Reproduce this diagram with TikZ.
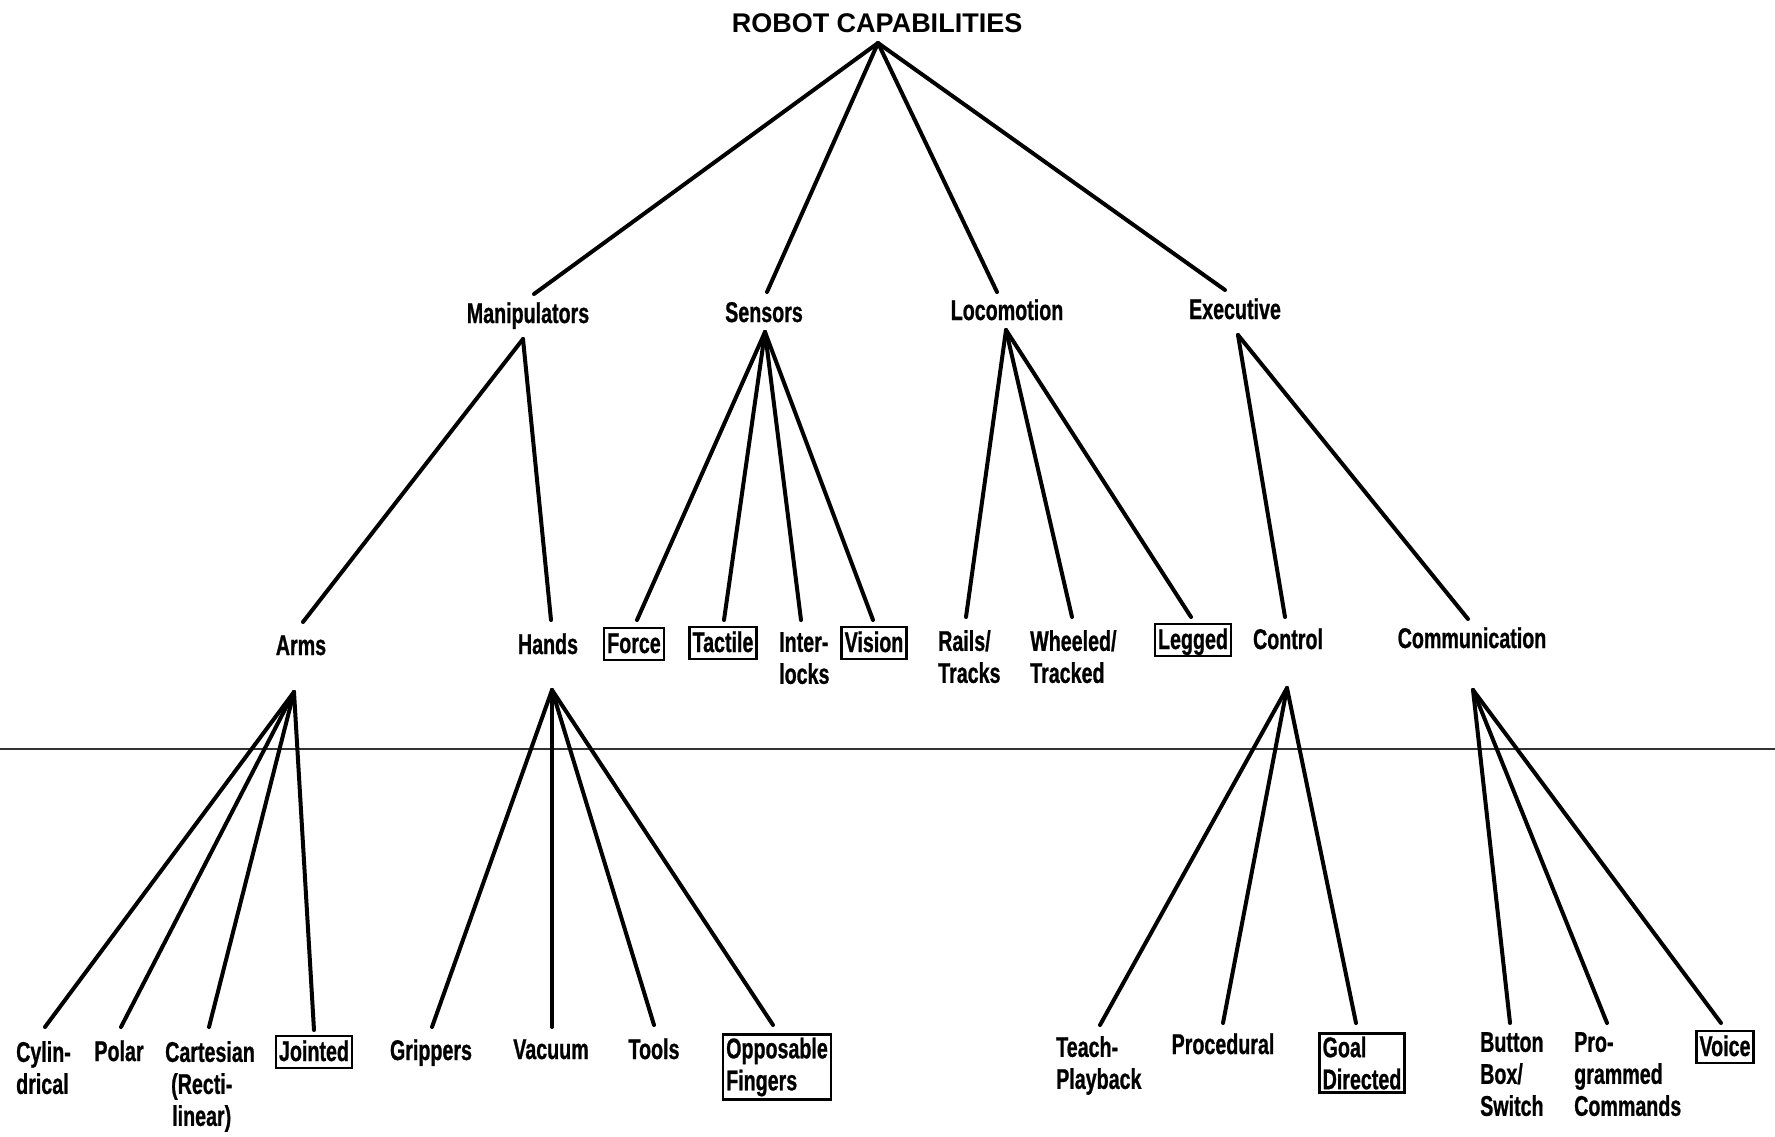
\documentclass[tikz,border=0pt]{standalone}
\usepackage{fontspec}
\newfontfamily\lab[FakeStretch=0.69,FakeBold=0.8]{Liberation Sans}
\newfontfamily\ttl{Liberation Sans}
\begin{document}
\begin{tikzpicture}[x=1pt,y=-1pt,
  lbl/.style={font=\lab\bfseries\fontsize{28.5}{32}\selectfont, inner sep=0pt, anchor=base},
  ml/.style={font=\lab\bfseries\fontsize{28.5}{32}\selectfont, inner sep=0pt, align=left, anchor=north west},
  boxed/.style={font=\lab\bfseries\fontsize{28.5}{32}\selectfont, draw, line width=2.5pt, inner xsep=3pt, inner ysep=3pt, text height=22pt, text depth=4pt, anchor=center},
  mlbox/.style={font=\lab\bfseries\fontsize{28.5}{32}\selectfont, draw, line width=2.5pt, inner sep=3pt, align=left, anchor=center},
  edge/.style={line width=4pt, line cap=round, line join=round}]
\useasboundingbox[fill=white] (0,0) rectangle (1775,1136);
% scan fold line
\draw[line width=1.2pt, black!80] (0,749) -- (1775,749);
% title
\node[font=\ttl\bfseries\fontsize{27}{32}\selectfont, inner sep=0pt, anchor=base] (title) at (877,32) {ROBOT CAPABILITIES};
% level 1
\node[lbl] (manip) at (528,323) {Manipulators};
\node[lbl] (sens) at (764,322) {Sensors};
\node[lbl] (loco) at (1007,320) {Locomotion};
\node[lbl] (exec) at (1235,319) {Executive};
% level 2
\node[lbl] (arms) at (301,655) {Arms};
\node[lbl] (hands) at (548,654) {Hands};
\node[boxed] (force) at (634,644) {Force};
\node[boxed] (tactile) at (723,643) {Tactile};
\node[ml] (inter) at (779,632) {Inter-\\locks};
\node[boxed] (vision) at (874,643) {Vision};
\node[ml] (rails) at (938,630) {Rails/\\Tracks};
\node[ml] (wheeled) at (1030,630) {Wheeled/\\Tracked};
\node[boxed] (legged) at (1193,640) {Legged};
\node[lbl] (control) at (1288,649) {Control};
\node[lbl] (comm) at (1472,648) {Communication};
% level 3
\node[ml] (cyl) at (16,1041) {Cylin-\\drical};
\node[lbl] (polar) at (119,1061) {Polar};
\node[ml] (cart) at (165,1041) {Cartesian\\\hspace*{6pt}(Recti-\\\hspace*{7pt}linear)};
\node[boxed] (jointed) at (314,1052) {Jointed};
\node[lbl] (grippers) at (431,1060) {Grippers};
\node[lbl] (vacuum) at (551,1059) {Vacuum};
\node[lbl] (tools) at (654,1059) {Tools};
\node[mlbox] (opp) at (777,1067) {Opposable\\Fingers};
\node[ml] (teach) at (1056,1036) {Teach-\\Playback};
\node[lbl] (proc) at (1223,1054) {Procedural};
\node[mlbox] (goal) at (1362,1063) {Goal\\Directed};
\node[ml] (button) at (1480,1032) {Button\\Box/\\Switch};
\node[ml] (prog) at (1574,1032) {Pro-\\grammed\\Commands};
\node[boxed] (voice) at (1725,1047) {Voice};
% connector points
\coordinate (titleB) at (878,43);
\coordinate (manipT) at (534,294);
\coordinate (sensT) at (767,292);
\coordinate (locoT) at (997,292);
\coordinate (execT) at (1225,290);
\coordinate (manipB) at (523,339);
\coordinate (sensB) at (765,332);
\coordinate (locoB) at (1006,330);
\coordinate (execB) at (1238,335);
\coordinate (armsT) at (303,622);
\coordinate (handsT) at (551,620);
\coordinate (forceT) at (637,620);
\coordinate (tactileT) at (724,620);
\coordinate (interT) at (801,620);
\coordinate (visionT) at (873,620);
\coordinate (railsT) at (966,617);
\coordinate (wheeledT) at (1072,617);
\coordinate (leggedT) at (1191,617);
\coordinate (controlT) at (1285,617);
\coordinate (commT) at (1468,619);
\coordinate (armsB) at (294,692);
\coordinate (handsB) at (552,690);
\coordinate (controlB) at (1287,688);
\coordinate (commB) at (1473,690);
\coordinate (cylT) at (45,1027);
\coordinate (polarT) at (121,1027);
\coordinate (cartT) at (209,1027);
\coordinate (jointedT) at (314,1030);
\coordinate (grippersT) at (432,1027);
\coordinate (vacuumT) at (552,1027);
\coordinate (toolsT) at (654,1025);
\coordinate (oppT) at (773,1025);
\coordinate (teachT) at (1100,1025);
\coordinate (procT) at (1223,1023);
\coordinate (goalT) at (1356,1023);
\coordinate (buttonT) at (1510,1023);
\coordinate (progT) at (1607,1023);
\coordinate (voiceT) at (1721,1023);
% connectors
\foreach \c in {manipT,sensT,locoT,execT} \draw[edge] (titleB) -- (\c);
\foreach \c in {armsT,handsT} \draw[edge] (manipB) -- (\c);
\foreach \c in {forceT,tactileT,interT,visionT} \draw[edge] (sensB) -- (\c);
\foreach \c in {railsT,wheeledT,leggedT} \draw[edge] (locoB) -- (\c);
\foreach \c in {controlT,commT} \draw[edge] (execB) -- (\c);
\foreach \c in {cylT,polarT,cartT,jointedT} \draw[edge] (armsB) -- (\c);
\foreach \c in {grippersT,vacuumT,toolsT,oppT} \draw[edge] (handsB) -- (\c);
\foreach \c in {teachT,procT,goalT} \draw[edge] (controlB) -- (\c);
\foreach \c in {buttonT,progT,voiceT} \draw[edge] (commB) -- (\c);
\end{tikzpicture}
\end{document}
